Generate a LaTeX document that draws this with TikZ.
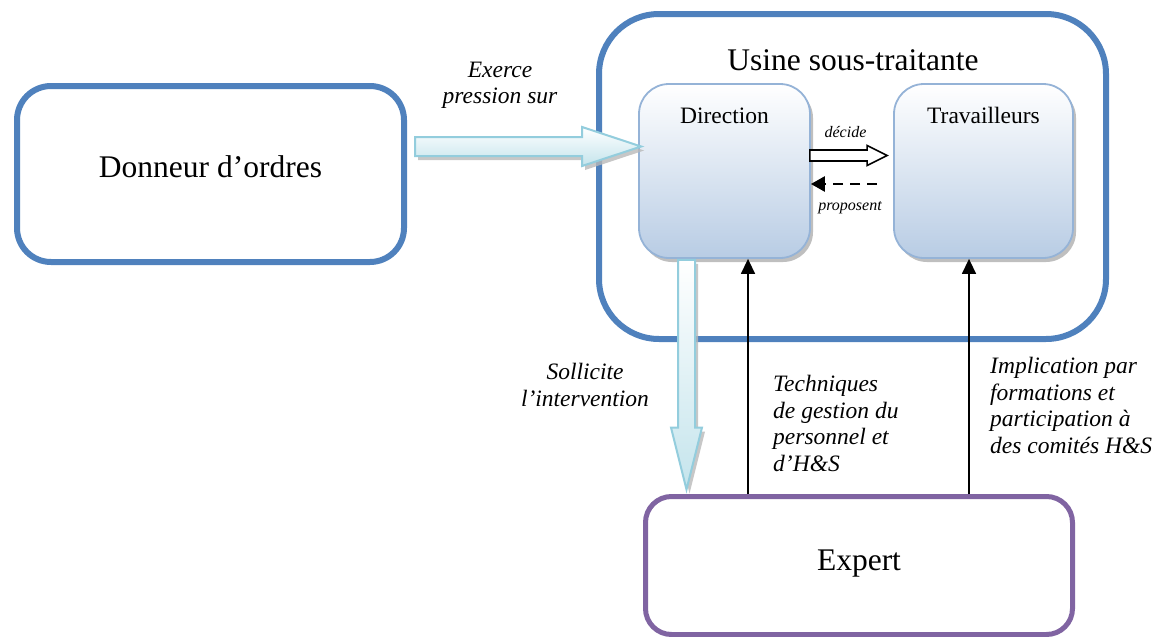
\documentclass[tikz,border=0pt]{standalone}
\usepackage{fontspec}
\setmainfont{Liberation Serif}
\usetikzlibrary{calc,shadows,arrows.meta}

\definecolor{frameblue}{HTML}{4F81BD}
\definecolor{innerline}{HTML}{95B3D7}
\definecolor{innerfill}{HTML}{B8CCE4}
\definecolor{expertline}{HTML}{8064A2}
\definecolor{aqualine}{HTML}{93CDDD}
\definecolor{aquafill}{HTML}{C4E4EC}

\begin{document}
\begin{tikzpicture}[x=1pt,y=-1pt,
  bigbox/.style={draw, rounded corners=34pt, line width=6pt, fill=white, inner sep=0pt},
  innerbox/.style={draw=innerline, line width=1.8pt, rounded corners=30pt,
    top color=white, bottom color=innerfill, inner sep=0pt,
    drop shadow={shadow xshift=3pt, shadow yshift=-4pt, fill=gray!55, opacity=0.9}},
  bigtext/.style={font=\fontsize{31.5}{36}\selectfont, inner sep=0pt, anchor=base},
  midtext/.style={font=\fontsize{23.5}{27}\selectfont, inner sep=0pt, anchor=base},
  lab/.style={font=\fontsize{23.5}{26.5}\selectfont\itshape, inner sep=0pt},
  smalllab/.style={font=\fontsize{16}{19}\selectfont\itshape, inner sep=0pt, anchor=base},
  blockarrow/.style={draw=aqualine, line width=2pt, line join=miter,
    top color=white, bottom color=aquafill,
    drop shadow={shadow xshift=3pt, shadow yshift=-4pt, fill=gray!55, opacity=0.8}},
  hollowarrow/.style={draw=black, line width=1.6pt, fill=white, line join=miter},
  thinarrow/.style={line width=1.5pt, -{Triangle[length=15pt,width=14pt]}},
  dasharrow/.style={line width=2.6pt, dash pattern=on 10pt off 7pt,
    -{Triangle[length=14pt,width=15pt,sep=0pt]}}
]
\useasboundingbox (0,0) rectangle (1162,637);

% outer boxes
\node[bigbox, draw=frameblue, minimum width=387pt, minimum height=176pt] (don) at (210.5,174) {};
\node[bigbox, draw=frameblue, rounded corners=60pt, minimum width=507pt, minimum height=325pt] (usine) at (852.5,176.5) {};
\node[bigbox, draw=expertline, line width=5pt, rounded corners=26pt, minimum width=427pt, minimum height=138pt] (expert) at (859,565.5) {};

% inner boxes of the plant
\node[innerbox, minimum width=171pt, minimum height=174pt] (dir) at (724.5,171) {};
\node[innerbox, minimum width=179pt, minimum height=174pt] (tra) at (983.5,171) {};

% box titles
\node[bigtext] (donT) at (210.5,177) {Donneur d’ordres};
\node[bigtext] (usineT) at (853,70) {Usine sous-traitante};
\node[bigtext] (expertT) at (859,570) {Expert};
\node[midtext] (dirT) at (724.5,123) {Direction};
\node[midtext] (traT) at (983.5,123) {Travailleurs};

% pressure arrow from the client to the management
\coordinate (rs) at (415,146.5);
\coordinate (re) at ([xshift=3pt]dir.west |- rs);
\draw[blockarrow] ($(re)+(-59,-9.5)$) -- ($(re)+(-59,-19.5)$) -- (re)
  -- ($(re)+(-59,19.5)$) -- ($(re)+(-59,9.5)$) -- ($(rs)+(0,9.5)$)
  -- ($(rs)+(0,-9.5)$) -- cycle;

% request arrow from the management down to the expert
\coordinate (solx) at (686.5,0);
\coordinate (ds) at ([yshift=-1pt]solx |- dir.south);
\coordinate (de) at ([yshift=4.5pt]solx |- expert.north);
\draw[blockarrow] ($(de)+(-8.5,-62)$) -- ($(ds)+(-8.5,0)$) -- ($(ds)+(8.5,0)$)
  -- ($(de)+(8.5,-62)$) -- ($(de)+(15.5,-62)$) -- (de) -- ($(de)+(-15.5,-62)$) -- cycle;

% decide / propose exchange
\coordinate (hs) at ([xshift=-1pt]dir.east |- 0,155.5);
\coordinate (he) at ([xshift=-6pt]tra.west |- hs);
\draw[hollowarrow] ($(hs)+(0,-5.5)$) -- ($(he)+(-20,-5.5)$) -- ($(he)+(-20,-10)$)
  -- (he) -- ($(he)+(-20,10)$) -- ($(he)+(-20,5.5)$) -- ($(hs)+(0,5.5)$) -- cycle;
\draw[dasharrow] ([xshift=-16pt]tra.west |- 0,184) -- (dir.east |- 0,184);
\node[smalllab] (decT) at (845.5,137) {décide};
\node[smalllab] (propT) at (850,210) {proposent};

% expert actions towards management and workers
\coordinate (gx) at (748,0);
\coordinate (ix) at (969,0);
\draw[thinarrow] (gx |- expert.north) -- (gx |- dir.south);
\draw[thinarrow] (ix |- expert.north) -- (ix |- tra.south);

% connector labels
\node[lab, align=center, anchor=north] (exT) at (500,61.5) {Exerce\\pression sur};
\node[lab, align=center, anchor=north] (solT) at (585,363) {Sollicite\\l’intervention};
\node[lab, align=left, anchor=north west] (techT) at (773,375) {Techniques\\de gestion du\\personnel et\\d’H\&S};
\node[lab, align=left, anchor=north west] (implT) at (990,357) {Implication par\\formations et\\participation à\\des comités H\&S};
\end{tikzpicture}
\end{document}
